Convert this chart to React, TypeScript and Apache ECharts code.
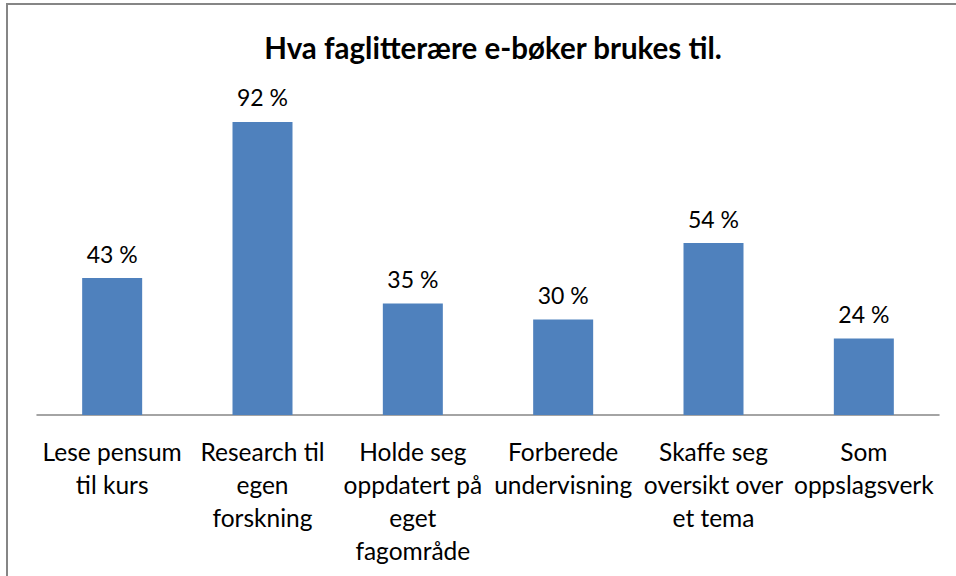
import React, { useEffect, useRef } from "react";
import * as echarts from "echarts";

const categories = [
  "Lese pensum\ntil kurs",
  "Research til\negen\nforskning",
  "Holde seg\noppdatert på\neget\nfagområde",
  "Forberede\nundervisning",
  "Skaffe seg\noversikt over\net tema",
  "Som\noppslagsverk",
];
const values = [43, 92, 35, 30, 54, 24];
const title = "Hva faglitterære e-bøker brukes til.";

export default function App() {
  const ref = useRef<HTMLDivElement>(null);
  useEffect(() => {
    const chart = echarts.init(ref.current!, null, { renderer: "svg" });
    const font = "Lato, 'Open Sans', sans-serif";
    chart.setOption({
      animation: false,
      backgroundColor: "#ffffff",
      title: {
        text: title,
        left: 488,
        textAlign: "center",
        top: 27,
        textStyle: { fontFamily: font, fontSize: 29.5, fontWeight: "bold", color: "#000" },
      },
      grid: { left: 37, right: 17, top: 96.5, bottom: 161, containLabel: false },
      xAxis: {
        type: "category",
        data: categories,
        axisLine: { show: true, lineStyle: { color: "#868686", width: 1.5 } },
        axisTick: { show: false },
        axisLabel: {
          interval: 0,
          margin: 20,
          fontFamily: font,
          fontSize: 24.5,
          lineHeight: 33,
          color: "#000",
        },
      },
      yAxis: {
        type: "value",
        min: 0,
        max: 100,
        show: false,
        splitLine: { show: false },
      },
      series: [
        {
          type: "bar",
          data: values,
          barWidth: 60,
          itemStyle: { color: "#4F81BD" },
          label: {
            show: true,
            position: "top",
            distance: 13,
            formatter: "{c} %",
            fontFamily: font,
            fontSize: 23,
            color: "#000",
          },
        },
      ],
      graphic: [
        {
          type: "rect",
          shape: { x: 7, y: 4, width: 1200, height: 900 },
          style: { fill: "none", stroke: "#868686", lineWidth: 2 },
          silent: true,
        },
      ],
    });
    return () => chart.dispose();
  }, []);
  return (
    <div
      ref={ref}
      style={{ position: "fixed", left: 0, top: 0, width: 956, height: 576 }}
    />
  );
}
